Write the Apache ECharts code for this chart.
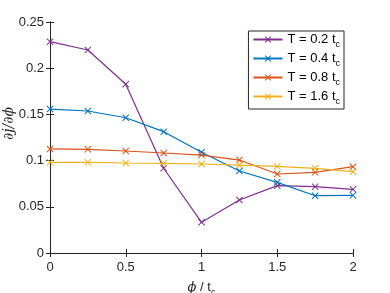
<!DOCTYPE html>
<html><head><meta charset="utf-8">
<script src="https://cdn.jsdelivr.net/npm/echarts@6/dist/echarts.min.js"></script>
<style>html,body{margin:0;padding:0;background:#fff}#c{width:390px;height:293px}</style>
</head><body><div id="c"></div>
<script>
const phi = [0, 0.25, 0.5, 0.75, 1, 1.25, 1.5, 1.75, 2];
const t02 = [0.2287, 0.2197, 0.1826, 0.0917, 0.0332, 0.0574, 0.0729, 0.0718, 0.0689];
const t04 = [0.1558, 0.1537, 0.1464, 0.1313, 0.1090, 0.0887, 0.0765, 0.0620, 0.0624];
const t08 = [0.1126, 0.1122, 0.1104, 0.1082, 0.1060, 0.1006, 0.0855, 0.0873, 0.0934];
const t16 = [0.0981, 0.0981, 0.0974, 0.0970, 0.0963, 0.0952, 0.0938, 0.0916, 0.0880];
const seriesNames = ['T = 0.2 t', 'T = 0.4 t', 'T = 0.8 t', 'T = 1.6 t'];
const colors = ['#7E2F8E', '#0072BD', '#D95319', '#EDB120'];

const FONT = 'Liberation Sans';
const AX = '#262626';
const xMark = 'path://M0,1 L1,0 L5,4 L9,0 L10,1 L6,5 L10,9 L9,10 L5,6 L1,10 L0,9 L4,5 Z';
const data = [t02, t04, t08, t16];

const chart = echarts.init(document.getElementById('c'));
const axCommon = {
  type: 'value', min: 0,
  axisLine: {show: true, lineStyle: {color: AX, width: 1}},
  axisTick: {show: true, inside: true, length: 4, lineStyle: {color: AX}},
  splitLine: {show: false}
};
chart.setOption({
  animation: false,
  color: colors,
  grid: {left: 50, right: 37, top: 22, bottom: 40, containLabel: false, outerBoundsMode: 'none'},
  legend: {
    right: 46, top: 31, orient: 'vertical',
    backgroundColor: '#fff', borderColor: AX, borderWidth: 1, borderRadius: 0,
    padding: [2, 4, 3, 4], itemGap: 3, itemWidth: 29, itemHeight: 8,
    textStyle: {fontFamily: FONT, fontSize: 13, color: '#000',
      rich: {s: {fontFamily: FONT, fontSize: 9, padding: [10, 0, 0, 0], color: '#000'}}},
    formatter: n => n + '{s|c}',
    data: seriesNames
  },
  graphic: [{
    type: 'text', left: 2, top: 107, rotation: Math.PI / 2,
    style: {text: '∂j/∂ϕ', fontFamily: 'DejaVu Serif', fontStyle: 'italic', fontSize: 14, fill: AX}
  }],
  xAxis: [
    Object.assign({}, axCommon, {max: 2, interval: 0.5, position: 'bottom',
      axisLabel: {fontFamily: FONT, fontSize: 13, color: AX, margin: 8},
      name: '{p|ϕ}{a| / t}{s|c}', nameLocation: 'middle', nameGap: 25,
      nameTextStyle: {rich: {
        p: {fontFamily: 'DejaVu Serif', fontStyle: 'italic', fontSize: 13, color: AX},
        a: {fontFamily: FONT, fontSize: 13, color: AX},
        s: {fontFamily: FONT, fontSize: 9, color: AX, padding: [10, 0, 0, 0]}}}}),
    Object.assign({}, axCommon, {max: 2, interval: 0.5, position: 'top', axisLabel: {show: false}})
  ],
  yAxis: [
    Object.assign({}, axCommon, {max: 0.25, interval: 0.05, position: 'left',
      axisLabel: {fontFamily: FONT, fontSize: 13, color: AX, margin: 6}}),
    Object.assign({}, axCommon, {max: 0.25, interval: 0.05, position: 'right', axisLabel: {show: false}})
  ],
  series: data.map((d, i) => ({
    name: seriesNames[i], type: 'line',
    data: phi.map((p, j) => [p, d[j]]),
    symbol: xMark, symbolSize: 7,
    lineStyle: {width: 1.2, color: colors[i]},
    itemStyle: {color: colors[i]}
  }))
});
</script></body></html>
